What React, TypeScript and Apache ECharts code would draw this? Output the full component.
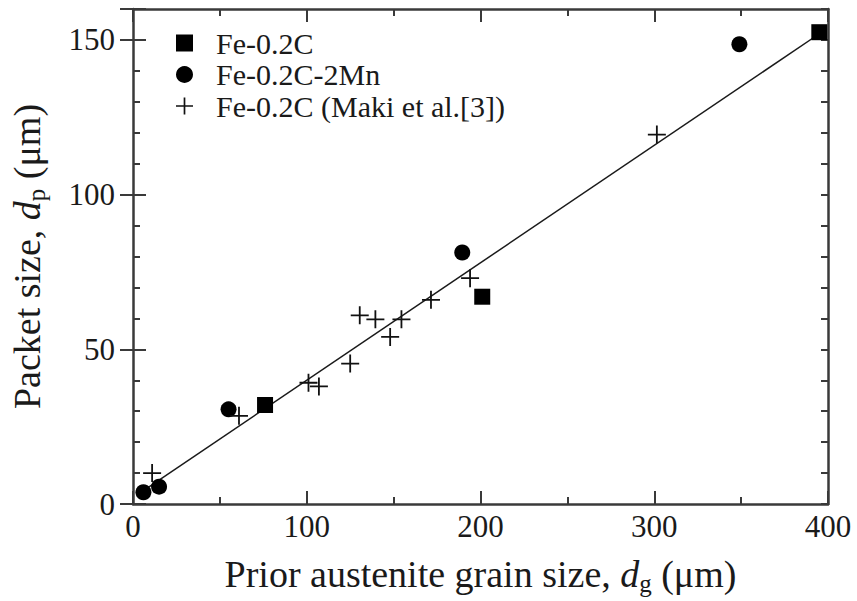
import React, { useEffect, useRef } from 'react';
import * as echarts from 'echarts';

// Prior austenite grain size d_g (µm) vs packet size d_p (µm)
const fe02c: number[][] = [[76, 32], [201, 67], [395, 152.5]];
const fe02c2mn: number[][] = [[6, 3.8], [15, 5.6], [55, 30.6], [189.5, 81.3], [349, 148.6]];
const maki: number[][] = [
  [11, 10], [61, 28.5], [101, 39.2], [107, 38], [125, 45.4], [130.5, 61],
  [139.5, 59.7], [148, 54], [154.5, 59.7], [171.5, 66], [194, 73], [301.5, 119.4],
];
// Linear fit drawn through all data
const fitLine: number[][] = [[2, 2.8], [395, 152]];

const seriesNames = ['Fe-0.2C', 'Fe-0.2C-2Mn', 'Fe-0.2C (Maki et al.[3])'];
const xTicks = { min: 0, max: 400, step: 100 };
const yTicks = { min: 0, max: 160, major: 50, minor: 10 };

const serif = 'Liberation Serif';
const ink = '#1a1a1a';
const frame = { color: '#3a3a3a', width: 2.5 };
const tickLine = { color: '#3a3a3a', width: 2 };
const crossPath = 'path://M9,0h2v9h9v2h-9v9h-2v-9h-9v-2h9z';

const titleRich = {
  n: { fontSize: 38, fontFamily: serif, color: ink, lineHeight: 44 },
  i: { fontSize: 38, fontFamily: serif, color: ink, lineHeight: 44, fontStyle: 'italic' },
  s: { fontSize: 25, fontFamily: serif, color: ink, lineHeight: 24, verticalAlign: 'bottom' },
};

export default function App() {
  const ref = useRef<HTMLDivElement>(null);

  useEffect(() => {
    if (!ref.current) return;
    const chart = echarts.init(ref.current, null, { renderer: 'svg' });

    const xBase = {
      type: 'value',
      min: xTicks.min,
      max: xTicks.max,
      interval: xTicks.step,
      axisLine: { show: true, onZero: false, lineStyle: frame },
      axisTick: { show: true, inside: true, length: 13, lineStyle: tickLine },
      minorTick: { show: true, splitNumber: 2, length: 7, lineStyle: tickLine },
      splitLine: { show: false },
      minorSplitLine: { show: false },
    };
    const yMinor = {
      type: 'value',
      min: yTicks.min,
      max: yTicks.max,
      interval: yTicks.minor,
      axisLine: { show: true, onZero: false, lineStyle: frame },
      axisTick: { show: true, inside: true, length: 7, lineStyle: tickLine },
      splitLine: { show: false },
    };
    const yMajor = {
      type: 'value',
      min: yTicks.min,
      max: yTicks.max,
      interval: yTicks.major,
      axisLine: { show: false },
      axisTick: { show: true, inside: true, length: 13, lineStyle: tickLine },
      axisLabel: { show: false },
      splitLine: { show: false },
    };

    chart.setOption({
      animation: false,
      backgroundColor: '#fff',
      textStyle: { fontFamily: serif },
      grid: { left: 133, right: 29, top: 9, bottom: 96, containLabel: false },
      legend: {
        orient: 'vertical',
        left: 171,
        top: 23,
        padding: 5,
        itemWidth: 17,
        itemHeight: 17,
        itemGap: 1.5,
        data: seriesNames,
        textStyle: { fontSize: 30, fontFamily: serif, color: ink, lineHeight: 30, padding: [0, 0, 0, 18] },
      },
      xAxis: [
        {
          ...xBase,
          position: 'bottom',
          axisLabel: { fontSize: 31, fontFamily: serif, color: ink, margin: 7 },
          name: '{n|Prior austenite grain size, }{i|d}{s|g}{n| (μm)}',
          nameLocation: 'middle',
          nameGap: 48,
          nameTextStyle: { fontFamily: serif, rich: titleRich },
        },
        { ...xBase, position: 'top', axisLabel: { show: false } },
      ],
      yAxis: [
        {
          ...yMinor,
          position: 'left',
          axisLabel: {
            fontSize: 31,
            fontFamily: serif,
            color: ink,
            margin: 18,
            formatter: (v: number) => (v % yTicks.major === 0 ? String(v) : ''),
          },
          name: '{n|Packet size, }{i|d}{s|p}{n| (μm)}',
          nameLocation: 'middle',
          nameGap: 84,
          nameTextStyle: { fontFamily: serif, rich: titleRich },
        },
        { ...yMajor, position: 'left' },
        { ...yMinor, position: 'right', axisLabel: { show: false } },
        { ...yMajor, position: 'right' },
      ],
      series: [
        {
          type: 'line',
          data: fitLine,
          showSymbol: false,
          silent: true,
          lineStyle: { color: ink, width: 1.5 },
          z: 1,
        },
        {
          name: seriesNames[0],
          type: 'scatter',
          data: fe02c,
          symbol: 'rect',
          symbolSize: 16,
          itemStyle: { color: '#000', opacity: 1 },
          z: 3,
        },
        {
          name: seriesNames[1],
          type: 'scatter',
          data: fe02c2mn,
          symbol: 'circle',
          symbolSize: 16,
          itemStyle: { color: '#000', opacity: 1 },
          z: 3,
        },
        {
          name: seriesNames[2],
          type: 'scatter',
          data: maki,
          symbol: crossPath,
          symbolSize: 18,
          itemStyle: { color: '#111', opacity: 1 },
          z: 3,
        },
      ],
    });

    return () => chart.dispose();
  }, []);

  return (
    <div
      ref={ref}
      style={{ position: 'fixed', left: 0, top: 0, width: 857, height: 601, background: '#fff' }}
    />
  );
}
